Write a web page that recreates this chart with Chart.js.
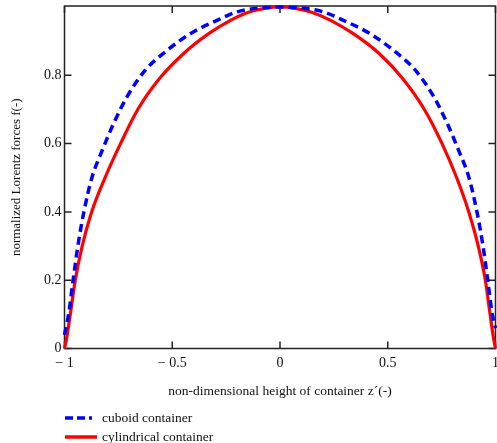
<!DOCTYPE html>
<html>
<head>
<meta charset="utf-8">
<script src="https://cdn.jsdelivr.net/npm/chart.js@4/dist/chart.umd.min.js"></script>
<style>
  html, body { margin: 0; padding: 0; background: #fff; }
  #wrap { position: relative; width: 497px; height: 443px; overflow: hidden; }
  #legend { position: absolute; left: 64px; top: 408px; font-family: 'Liberation Serif', 'Times New Roman', serif; font-size: 13.5px; color: #111; }
  .item { display: flex; align-items: center; height: 19px; white-space: nowrap; }
  .item svg { margin-right: 5px; }
</style>
</head>
<body>
<div id="wrap">
  <canvas id="chart" width="497" height="443"></canvas>
  <div id="legend">
    <div class="item">
      <svg width="33" height="6"><line x1="1" y1="3" x2="33" y2="3" stroke="#0000ff" stroke-width="3.5" stroke-dasharray="8 4 8 4 3 6"/></svg>
      <span>cuboid container</span>
    </div>
    <div class="item">
      <svg width="33" height="6"><line x1="1" y1="3" x2="33" y2="3" stroke="#ff0000" stroke-width="3.5"/></svg>
      <span>cylindrical container</span>
    </div>
  </div>
</div>
<script>
// values
const xTicks = [-1, -0.5, 0, 0.5, 1];
const xTickLabels = ['\u2212 1', '\u2212 0.5', '0', '0.5', '1'];
const yTicks = [0, 0.2, 0.4, 0.6, 0.8];
const yTickLabels = ['0', '0.2', '0.4', '0.6', '0.8'];

const cuboidZ = [-1, -0.981, -0.96, -0.938, -0.91, -0.873, -0.825, -0.772, -0.71, -0.625, -0.524, -0.416, -0.292, -0.199, -0.1, 0,
  0.1, 0.2, 0.294, 0.418, 0.527, 0.628, 0.714, 0.776, 0.829, 0.877, 0.914, 0.942, 0.964, 0.985, 1];
const cuboidF = [0.04, 0.1, 0.2, 0.3, 0.4, 0.5, 0.58, 0.659, 0.737, 0.815, 0.873, 0.922, 0.961, 0.986, 0.997, 1,
  0.997, 0.986, 0.961, 0.922, 0.873, 0.815, 0.737, 0.659, 0.58, 0.5, 0.4, 0.3, 0.2, 0.1, 0.06];

const cylZ = [-1, -0.99, -0.973, -0.95, -0.918, -0.874, -0.812, -0.74, -0.66, -0.56, -0.447, -0.331, -0.23, -0.15, -0.07, 0,
  0.07, 0.15, 0.235, 0.34, 0.46, 0.57, 0.67, 0.752, 0.82, 0.876, 0.92, 0.953, 0.975, 0.991, 1];
const cylF = [0, 0.03, 0.1, 0.2, 0.3, 0.4, 0.5, 0.6, 0.7, 0.79, 0.864, 0.922, 0.961, 0.984, 0.996, 1,
  0.996, 0.984, 0.961, 0.922, 0.864, 0.79, 0.7, 0.6, 0.5, 0.4, 0.3, 0.2, 0.1, 0.03, 0];

const serif = "'Liberation Serif', 'Times New Roman', serif";
const textColor = '#111';

// frame + inward ticks on all four sides
const frameTicks = {
  id: 'frameTicks',
  beforeDatasetsDraw(chart) {
    const { ctx, chartArea: a, scales } = chart;
    const len = 7;
    ctx.save();
    ctx.strokeStyle = '#222';
    ctx.lineWidth = 1.5;
    ctx.strokeRect(a.left, a.top, a.right - a.left, a.bottom - a.top);
    ctx.beginPath();
    xTicks.forEach(v => {
      const px = scales.x.getPixelForValue(v);
      ctx.moveTo(px, a.bottom); ctx.lineTo(px, a.bottom - len);
      ctx.moveTo(px, a.top); ctx.lineTo(px, a.top + len);
    });
    yTicks.forEach(v => {
      const py = scales.y.getPixelForValue(v);
      ctx.moveTo(a.left, py); ctx.lineTo(a.left + len, py);
      ctx.moveTo(a.right, py); ctx.lineTo(a.right - len, py);
    });
    ctx.stroke();
    ctx.restore();
  }
};

new Chart(document.getElementById('chart'), {
  type: 'line',
  data: {
    datasets: [
      {
        label: 'cuboid container',
        data: cuboidZ.map((z, i) => ({ x: z, y: cuboidF[i] })),
        borderColor: '#0000ff',
        borderWidth: 3.5,
        borderDash: [8, 5],
        pointRadius: 0,
        cubicInterpolationMode: 'monotone',
        clip: false
      },
      {
        label: 'cylindrical container',
        data: cylZ.map((z, i) => ({ x: z, y: cylF[i] })),
        borderColor: '#ff0000',
        borderWidth: 3.2,
        pointRadius: 0,
        cubicInterpolationMode: 'monotone',
        clip: false
      }
    ]
  },
  options: {
    responsive: false,
    animation: false,
    layout: { padding: { top: 6, right: 1.5, bottom: 34.5, left: 0 } },
    plugins: { legend: { display: false }, tooltip: { enabled: false } },
    scales: {
      x: {
        type: 'linear',
        min: -1,
        max: 1,
        afterBuildTicks: s => { s.ticks = xTicks.map(v => ({ value: v })); },
        afterFit: s => { s.height = 60; s.paddingLeft = 0; s.paddingRight = 0; },
        ticks: {
          autoSkip: false,
          maxRotation: 0,
          padding: 6,
          color: textColor,
          font: { family: serif, size: 14 },
          callback: v => xTickLabels[xTicks.indexOf(v)]
        },
        grid: { display: false, drawTicks: false },
        border: { display: false },
        title: {
          display: true,
          text: 'non-dimensional height of container z\u00b4(-)',
          color: textColor,
          font: { family: serif, size: 13.5 },
          padding: { top: 0, bottom: 8.5 }
        }
      },
      y: {
        min: 0,
        max: 1.003,
        afterBuildTicks: s => { s.ticks = yTicks.map(v => ({ value: v })); },
        afterFit: s => { s.width = 64.5; s.paddingTop = 0; s.paddingBottom = 0; },
        ticks: {
          padding: 3,
          color: textColor,
          font: { family: serif, size: 14 },
          callback: v => yTickLabels[yTicks.indexOf(v)]
        },
        grid: { display: false, drawTicks: false },
        border: { display: false },
        title: {
          display: true,
          text: 'normalized Lorentz forces f(-)',
          color: textColor,
          font: { family: serif, size: 13 },
          padding: { top: 9, bottom: 0 }
        }
      }
    }
  },
  plugins: [frameTicks]
});
</script>
</body>
</html>
